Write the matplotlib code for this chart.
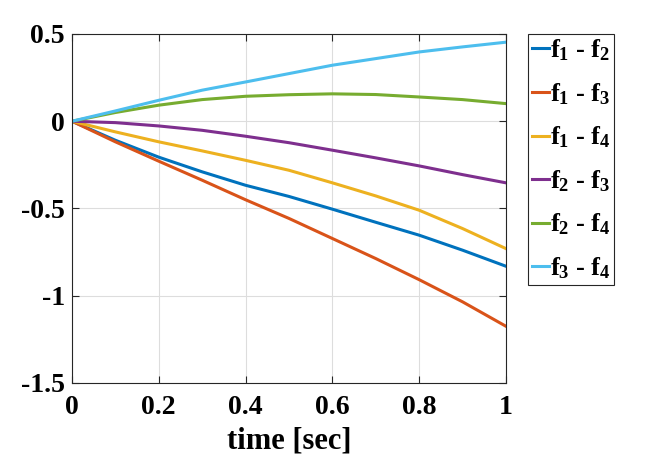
import matplotlib
matplotlib.use("Agg")
import matplotlib.pyplot as plt
import numpy as np

plt.rcParams['font.family'] = 'Liberation Serif'
plt.rcParams['font.weight'] = 'bold'
plt.rcParams['mathtext.fontset'] = 'custom'
plt.rcParams['mathtext.rm'] = 'Liberation Serif:bold'
plt.rcParams['mathtext.it'] = 'Liberation Serif:bold'
plt.rcParams['mathtext.bf'] = 'Liberation Serif:bold'

# values
t = [0.0, 0.1, 0.2, 0.3, 0.4, 0.5, 0.6, 0.7, 0.8, 0.9, 1.0]
f12 = [0, -0.109, -0.206, -0.290, -0.367, -0.431, -0.504, -0.579, -0.653, -0.739, -0.831]
f13 = [0, -0.118, -0.229, -0.338, -0.450, -0.557, -0.672, -0.787, -0.908, -1.035, -1.175]
f14 = [0, -0.061, -0.118, -0.170, -0.224, -0.281, -0.353, -0.428, -0.510, -0.615, -0.730]
f23 = [0, -0.008, -0.027, -0.052, -0.086, -0.123, -0.166, -0.210, -0.256, -0.306, -0.353]
f24 = [0, 0.050, 0.092, 0.124, 0.143, 0.152, 0.157, 0.153, 0.139, 0.124, 0.101]
f34 = [0, 0.059, 0.120, 0.178, 0.225, 0.273, 0.321, 0.359, 0.397, 0.426, 0.453]

series = [f12, f13, f14, f23, f24, f34]
labels = ['$f_1$ - $f_2$', '$f_1$ - $f_3$', '$f_1$ - $f_4$',
          '$f_2$ - $f_3$', '$f_2$ - $f_4$', '$f_3$ - $f_4$']
colors = ['#0072BD', '#D95319', '#EDB120', '#7E2F8E', '#77AC30', '#4DBEEE']

fig = plt.figure(figsize=(6.64, 4.58), dpi=100)
ax = fig.add_axes([0.1084, 0.1638, 0.6536, 0.762])

for y, lab, c in zip(series, labels, colors):
    ax.plot(t, y, color=c, lw=2.2, label=lab)

ax.set_xlim(0, 1)
ax.set_ylim(-1.5, 0.5)
ax.set_xticks([0, 0.2, 0.4, 0.6, 0.8, 1])
ax.set_xticklabels(['0', '0.2', '0.4', '0.6', '0.8', '1'])
ax.set_yticks([-1.5, -1, -0.5, 0, 0.5])
ax.set_yticklabels(['-1.5', '-1', '-0.5', '0', '0.5'])
ax.grid(True, color='#dddddd', lw=0.8)
ax.tick_params(direction='in', top=True, right=True, labelsize=20, length=5,
               color='#262626')
ax.tick_params(axis='x', pad=9)
ax.tick_params(axis='y', pad=5)
for s in ax.spines.values():
    s.set_color('#262626')
    s.set_linewidth(0.8)
ax.set_xlabel('time [sec]', fontsize=22, fontweight='bold', labelpad=4)

leg = fig.legend(loc='upper left', bbox_to_anchor=(528 / 664, 1 - 34 / 458),
                 fontsize=19, handlelength=0.65, handletextpad=0.05,
                 borderpad=0.14, labelspacing=0.68, borderaxespad=0,
                 fancybox=False, framealpha=1)
leg.get_frame().set_edgecolor('#262626')
leg.get_frame().set_linewidth(0.8)

fig.savefig('out.png', dpi=100)
